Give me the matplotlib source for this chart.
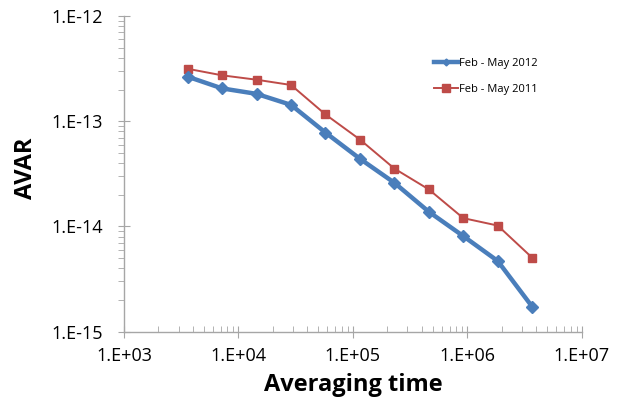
import numpy as np
import matplotlib.pyplot as plt
from matplotlib.ticker import FuncFormatter, LogLocator, NullFormatter

tau = [3600, 7200, 14400, 28800, 57600, 115200, 230400, 460800, 921600, 1843200, 3686400]
avar_2012 = [2.65e-13, 2.05e-13, 1.82e-13, 1.43e-13, 7.8e-14, 4.4e-14, 2.6e-14, 1.38e-14, 8.1e-15, 4.7e-15, 1.73e-15]
avar_2011 = [3.15e-13, 2.73e-13, 2.48e-13, 2.21e-13, 1.16e-13, 6.7e-14, 3.55e-14, 2.25e-14, 1.2e-14, 1.02e-14, 5.05e-15]
labels = ["Feb - May 2012", "Feb - May 2011"]
x_ticks = [1e3, 1e4, 1e5, 1e6, 1e7]
y_ticks = [1e-15, 1e-14, 1e-13, 1e-12]

plt.rcParams['font.family'] = ['Open Sans', 'DejaVu Sans']

fig = plt.figure(figsize=(6.34, 4.07), dpi=100)
ax = fig.add_axes([0.1956, 0.185, 0.722, 0.7757])

ax.plot(tau, avar_2012, color='#4a7ebb', lw=3.2, marker='D', ms=6.5, label=labels[0], zorder=3)
ax.plot(tau, avar_2011, color='#be4b48', lw=1.4, marker='s', ms=6, label=labels[1], zorder=2)

ax.set_xscale('log')
ax.set_yscale('log')
ax.set_xticks(x_ticks)
ax.set_yticks(y_ticks)
ax.set_xlim(1e3, 1e7)
ax.set_ylim(1e-15, 1e-12)

def fmt(v, pos):
    e = int(round(np.log10(v)))
    return "1.E%+03d" % e

ax.xaxis.set_major_formatter(FuncFormatter(fmt))
ax.yaxis.set_major_formatter(FuncFormatter(fmt))
ax.xaxis.set_minor_locator(LogLocator(subs=np.arange(2, 10)))
ax.yaxis.set_minor_locator(LogLocator(subs=np.arange(2, 10)))
ax.xaxis.set_minor_formatter(NullFormatter())
ax.yaxis.set_minor_formatter(NullFormatter())

for s in ['top', 'right']:
    ax.spines[s].set_visible(False)
for s in ['left', 'bottom']:
    ax.spines[s].set_color('#a6a6a6')
    ax.spines[s].set_linewidth(1.0)

ax.tick_params(axis='x', which='major', direction='inout', length=8, color='#a6a6a6', labelsize=13, pad=7)
ax.tick_params(axis='x', which='minor', direction='in', length=4, color='#a6a6a6')
ax.tick_params(axis='y', which='major', direction='inout', length=8, color='#a6a6a6', labelsize=13, pad=11)
ax.tick_params(axis='y', which='minor', direction='out', length=4, color='#a6a6a6')

ax.set_xlabel("Averaging time", fontsize=17, fontweight='bold', labelpad=6)
ax.set_ylabel("AVAR", fontsize=17, fontweight='bold')
ax.yaxis.set_label_coords(-0.188, 0.517)

leg = ax.legend(loc='upper left', bbox_to_anchor=(0.655, 0.90), frameon=False, fontsize=8,
                handlelength=2.2, labelspacing=1.35, handletextpad=0.1)
leg.legend_handles[0].set_markersize(3.5)

fig.savefig("out.png", dpi=100)
